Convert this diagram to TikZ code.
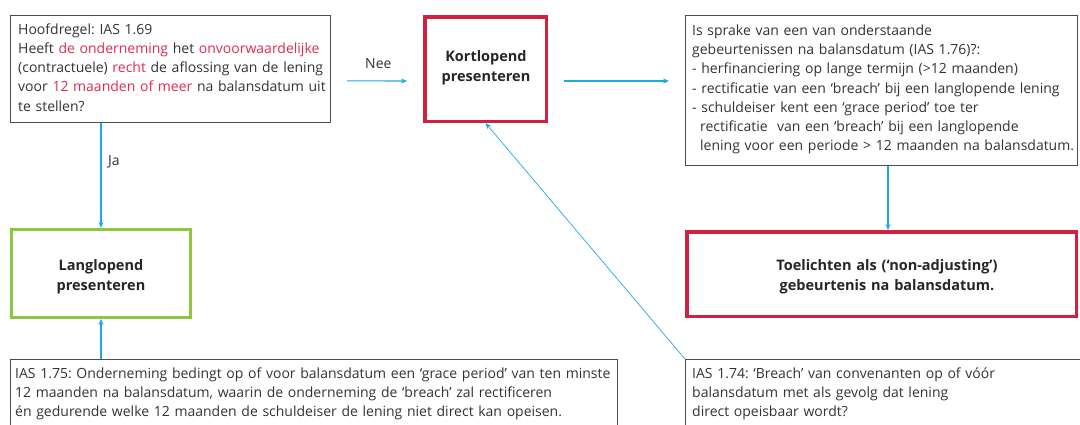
\documentclass[tikz,border=0pt]{standalone}
\usepackage{fontspec}
\setmainfont{Open Sans}
\usetikzlibrary{arrows.meta}
\definecolor{krood}{RGB}{210,32,64}
\definecolor{kgroen}{RGB}{141,198,63}
\definecolor{kblauw}{RGB}{27,170,226}
\definecolor{kgrijs}{RGB}{77,77,77}
\definecolor{ktekst}{RGB}{51,51,51}
\definecolor{krtekst}{RGB}{221,44,80}
\newcommand{\rd}[1]{\textcolor{krtekst}{#1}}
\frenchspacing
\begin{document}
\begin{tikzpicture}[x=1pt,y=-1pt,
  greybox/.style={draw=kgrijs,line width=1pt,inner sep=0pt},
  redbox/.style={draw=krood,line width=3.5pt,inner sep=0pt},
  greenbox/.style={draw=kgroen,line width=3pt,inner sep=0pt},
  txt/.style={anchor=base west,inner sep=0pt,font=\fontsize{14}{19.2}\selectfont,text=ktekst,align=left},
  boldtxt/.style={anchor=base,inner sep=0pt,font=\fontsize{14.5}{20.5}\selectfont\bfseries,text=black!85,align=center},
  lbl/.style={anchor=base west,inner sep=0pt,font=\fontsize{14}{17}\selectfont,text=ktekst},
  arr/.style={draw=kblauw,line width=1.1pt,-{Stealth[length=6pt,width=5pt]}},
  thinarr/.style={draw=kblauw,line width=0.7pt,-{Stealth[length=6pt,width=5pt]}}]
\useasboundingbox (0,0) rectangle (1080,424);
% boxes
\node[greybox,minimum width=320pt,minimum height=106.7pt] (q1) at (170.5,68.85) {};
\node[redbox,minimum width=121.5pt,minimum height=104.5pt] (ko) at (485.5,69) {};
\node[greybox,minimum width=392pt,minimum height=150pt] (ev) at (881.5,90.5) {};
\node[greenbox,minimum width=179pt,minimum height=88pt] (lang) at (101,273.5) {};
\node[redbox,minimum width=389.5pt,minimum height=84.5pt] (toel) at (881.5,274) {};
\node[greybox,minimum width=607pt,minimum height=80pt] (ias75) at (314,399.5) {};
\node[greybox,minimum width=399pt,minimum height=80pt] (ias74) at (885,399.5) {};
% texts
\node[txt,text width=320pt] (q1t) at (18,34.3) {Hoofdregel: IAS 1.69\\
Heeft \rd{de onderneming} het \rd{onvoorwaardelijke}\\
(contractuele) \rd{recht} de aflossing van de lening\\
voor \rd{12 maanden of meer} na balansdatum uit\\
te stellen?};
\node[boldtxt,text width=120pt] (kot) at (486,61) {Kortlopend\\presenteren};
\node[txt,text width=385pt] (evt) at (692,35.5) {Is sprake van een van onderstaande\\
gebeurtenissen na balansdatum (IAS 1.76)?:\\
- herfinanciering op lange termijn (>12 maanden)\\
- rectificatie van een ‘breach’ bij een langlopende lening\\
- schuldeiser kent een ‘grace period’ toe ter\\
\hspace*{8pt}rectificatie\ \ van een ‘breach’ bij een langlopende\\
\hspace*{8pt}lening voor een periode > 12 maanden na balansdatum.};
\node[boldtxt,text width=175pt] (langt) at (101,270) {Langlopend\\presenteren};
\node[boldtxt,text width=385pt] (toelt) at (887,270) {Toelichten als (‘non-adjusting’)\\gebeurtenis na balansdatum.};
\node[txt,text width=600pt] (ias75t) at (15,378) {IAS 1.75: Onderneming bedingt op of voor balansdatum een ‘grace period’ van ten minste\\
12 maanden na balansdatum, waarin de onderneming de ‘breach’ zal rectificeren\\
én gedurende welke 12 maanden de schuldeiser de lening niet direct kan opeisen.};
\node[txt,text width=385pt] (ias74t) at (692,378) {IAS 1.74: ‘Breach’ van convenanten op of vóór\\
balansdatum met als gevolg dat lening\\
direct opeisbaar wordt?};
% labels
\node[lbl] (nee) at (365,68) {Nee};
\node[lbl] (ja) at (108,165.7) {Ja};
% connectors
\draw[arr] ([shift={(16,12)}]q1.east) -- ([shift={(-16,12)}]ko.west);
\draw[arr] ([shift={(16,12)}]ko.east) -- ([shift={(-16,-9.5)}]ev.west);
\draw[arr] (q1.south -| lang.north) -- (lang.north);
\draw[arr] (ias75.north -| lang.south) -- (lang.south);
\draw[arr] ([xshift=6.5pt]ev.south) -- ([xshift=6.5pt]toel.north);
\draw[thinarr] (ias74.north west) -- (ko.south);
\end{tikzpicture}
\end{document}
